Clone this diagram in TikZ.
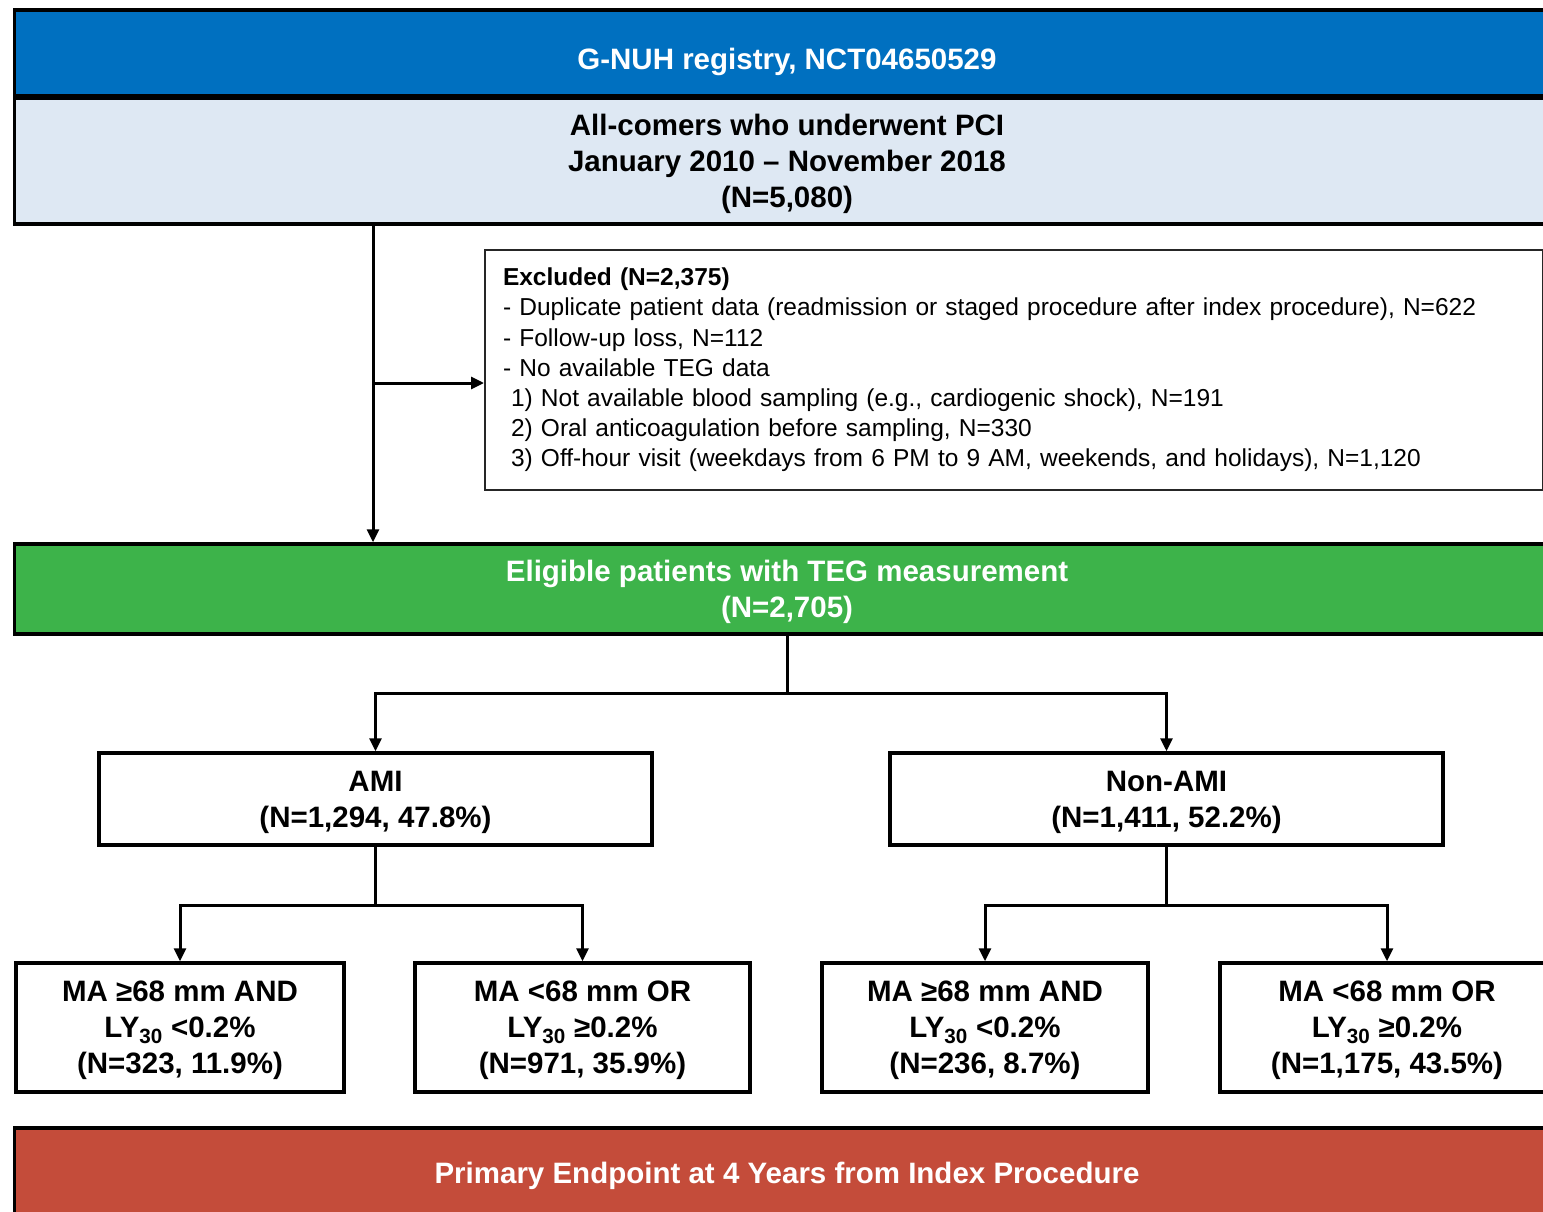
\documentclass[tikz,border=0pt]{standalone}
\usepackage{fontspec}
\setmainfont{Liberation Sans}
\usetikzlibrary{arrows.meta}
\definecolor{regblue}{RGB}{0,112,192}
\definecolor{popblue}{RGB}{222,232,243}
\definecolor{eliggreen}{RGB}{61,179,74}
\definecolor{endred}{RGB}{196,76,58}
\begin{document}
\begin{tikzpicture}[x=1pt, y=-1pt,
    box/.style={draw, line width=3.5pt, align=center, inner sep=0pt, text depth=0pt,
      font=\bfseries\fontsize{29.5}{36}\selectfont},
    conn/.style={line width=3pt},
    arr/.style={conn, -{Triangle[length=13pt,width=12pt]}}]
      \useasboundingbox (0,0) rectangle (1543,1212);
      \clip (0,0) rectangle (1543,1212);
      %
      \node[box, fill=regblue, text=white, minimum width=1545, minimum height=86] (reg) at (787,53) {\raisebox{-11pt}{G-NUH registry, NCT04650529}};
      \node[box, fill=popblue, minimum width=1545, minimum height=126] (pop) at (787,161) {All-comers who underwent PCI\\January 2010 -- November 2018\\(N=5,080)};
      %
      \node[draw, line width=2pt, draw=black!85, align=left, inner sep=18pt, text width=1022, minimum height=233,
        font=\fontsize{24.5}{30.2}\selectfont] (excl) at (1014,370)
        {\textbf{Excluded (N=2,375)}\\
         - Duplicate patient data (readmission or staged procedure after index procedure), N=622\\
         - Follow-up loss, N=112\\
         - No available TEG data\\
         \hspace*{8pt}1) Not available blood sampling (e.g., cardiogenic shock), N=191\\
         \hspace*{8pt}2) Oral anticoagulation before sampling, N=330\\
         \hspace*{8pt}3) Off-hour visit (weekdays from 6 PM to 9 AM, weekends, and holidays), N=1,120};
      %
      \node[box, fill=eliggreen, text=white, minimum width=1545, minimum height=90] (elig) at (787,589) {Eligible patients with TEG measurement\\(N=2,705)};
      %
      \node[box, minimum width=553, minimum height=92] (ami) at (375.5,799) {AMI\\(N=1,294, 47.8\%)};
      \node[box, minimum width=553, minimum height=92] (nonami) at (1166.5,799) {Non-AMI\\(N=1,411, 52.2\%)};
      %
      \node[box, minimum width=328, minimum height=129] (amilow) at (180,1027.5) {MA ≥68 mm AND\\LY\textsubscript{30} <0.2\%\\(N=323, 11.9\%)};
      \node[box, minimum width=335, minimum height=129] (amihigh) at (582.5,1027.5) {MA <68 mm OR\\LY\textsubscript{30} ≥0.2\%\\(N=971, 35.9\%)};
      \node[box, minimum width=326, minimum height=129] (nonlow) at (985,1027.5) {MA ≥68 mm AND\\LY\textsubscript{30} <0.2\%\\(N=236, 8.7\%)};
      \node[box, minimum width=334, minimum height=129] (nonhigh) at (1387,1027.5) {MA <68 mm OR\\LY\textsubscript{30} ≥0.2\%\\(N=1,175, 43.5\%)};
      %
      \node[box, fill=endred, text=white, minimum width=1545, minimum height=90] (endpt) at (787,1173) {Primary Endpoint at 4 Years from Index Procedure};
      %
      \coordinate (trunk) at (373,383);
      \draw[arr] (trunk |- pop.south) -- (trunk |- elig.north);
      \draw[arr] (trunk) -- (trunk -| excl.west);
      %
      \draw[arr] (elig.south) -- ++(0,58) -| (ami.north);
      \draw[arr] (elig.south) -- ++(0,58) -| (nonami.north);
      %
      \draw[arr] (ami.south) -- ++(0,59) -| (amilow.north);
      \draw[arr] (ami.south) -- ++(0,59) -| (amihigh.north);
      \draw[arr] (nonami.south) -- ++(0,59) -| (nonlow.north);
      \draw[arr] (nonami.south) -- ++(0,59) -| (nonhigh.north);
      %
    \end{tikzpicture}
\end{document}
